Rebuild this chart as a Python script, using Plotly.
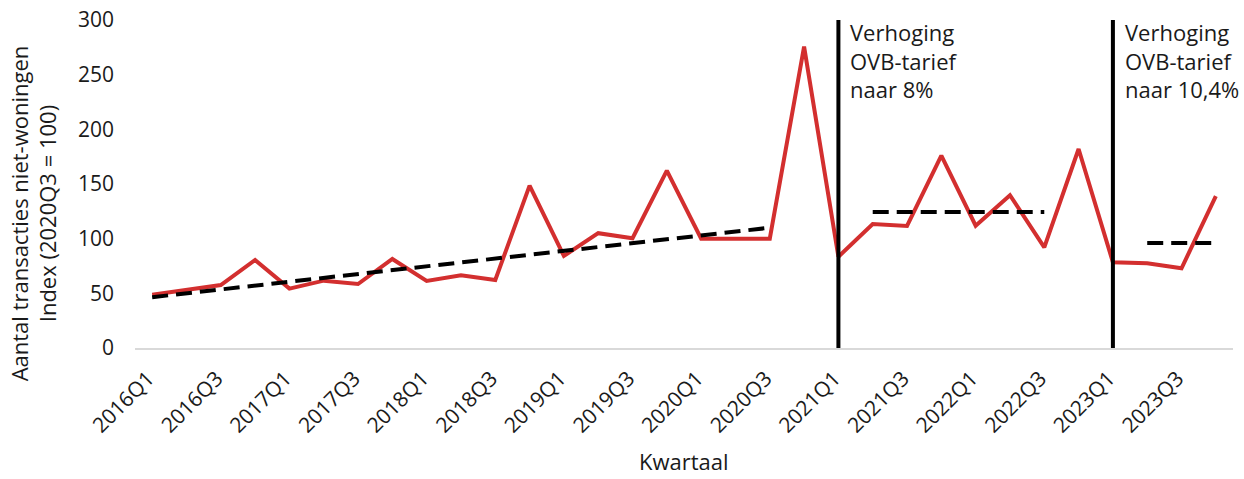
import plotly.graph_objects as go

quarters = [f"{y}Q{q}" for y in range(2016, 2024) for q in range(1, 5)]
index_values = [48.8, 53, 57.6, 80.5, 54.3, 61.6, 58.5, 81.4,
                61.3, 66.5, 62.2, 148.5, 84.2, 105, 100.4, 162.2,
                100, 100, 100, 275.7, 83.5, 113.4, 111.6, 176,
                111.9, 139.7, 92.1, 182, 78.4, 77.5, 72.9, 139]

trend1_x = ["2016Q1", "2020Q3"]
trend1_y = [46.5, 110]
trend2_x = ["2021Q2", "2022Q3"]
trend2_y = [124.4, 124.4]
trend3_x = ["2023Q2", "2023Q4"]
trend3_y = [96, 96]

event_quarters = ["2021Q1", "2023Q1"]
event_labels = ["Verhoging<br>OVB-tarief<br>naar 8%", "Verhoging<br>OVB-tarief<br>naar 10,4%"]

tick_labels = quarters[::2]
y_ticks = [0, 50, 100, 150, 200, 250, 300]

y_title = "Aantal transacties niet-woningen<br>Index (2020Q3 = 100)"
x_title = "Kwartaal"

FONT = "Open Sans"
TXT = "#1a1a1a"
FS_TICK = 21
FS = 22

fig = go.Figure()
fig.add_trace(go.Scatter(x=quarters, y=index_values, mode="lines",
                         line=dict(color="#d32f2f", width=4), showlegend=False))
for tx, ty in [(trend1_x, trend1_y), (trend2_x, trend2_y), (trend3_x, trend3_y)]:
    fig.add_trace(go.Scatter(x=tx, y=ty, mode="lines",
                             line=dict(color="black", width=4, dash="16px,8px"),
                             showlegend=False))

for q, lab in zip(event_quarters, event_labels):
    xi = quarters.index(q)
    fig.add_shape(type="line", xref="x", yref="y", x0=xi, x1=xi, y0=0, y1=300,
                  line=dict(color="black", width=4))
    fig.add_annotation(x=xi, y=300, xref="x", yref="y", text=lab, showarrow=False,
                       xanchor="left", yanchor="top", align="left", xshift=10, yshift=5,
                       font=dict(family=FONT, size=FS, color=TXT))

# axis titles
fig.add_annotation(x=0, y=0.409, xref="paper", yref="paper", text=y_title, showarrow=False,
                   textangle=-90, xanchor="right", yanchor="middle", xshift=-70,
                   font=dict(family=FONT, size=FS, color=TXT))
fig.add_annotation(x=0.5, y=-0.395, xref="paper", yref="paper", text=x_title, showarrow=False,
                   xanchor="center", yanchor="bottom",
                   font=dict(family=FONT, size=FS, color=TXT))

fig.update_layout(
    width=1244, height=479,
    margin=dict(l=135, r=11, t=20, b=131),
    paper_bgcolor="white", plot_bgcolor="white",
    font=dict(family=FONT, size=FS, color=TXT),
)
fig.update_xaxes(
    type="category", categoryorder="array", categoryarray=quarters,
    range=[-0.5, len(quarters) - 0.5], automargin=False,
    tickmode="array", tickvals=tick_labels, ticktext=tick_labels,
    tickangle=-45, showgrid=False, showline=True, linecolor="#d9d9d9", linewidth=2,
    ticks="", ticklabelstandoff=8, ticklabelshift=-4,
    tickfont=dict(family=FONT, size=FS_TICK, color=TXT),
)
fig.update_yaxes(
    range=[0, 300], tickvals=y_ticks, showgrid=False, zeroline=False, showline=False,
    automargin=False, ticklabelstandoff=20, tickfont=dict(family=FONT, size=FS_TICK, color=TXT),
)

fig.write_html("out.html", config={"displayModeBar": False},
               post_script="document.body.style.margin='0px';")
